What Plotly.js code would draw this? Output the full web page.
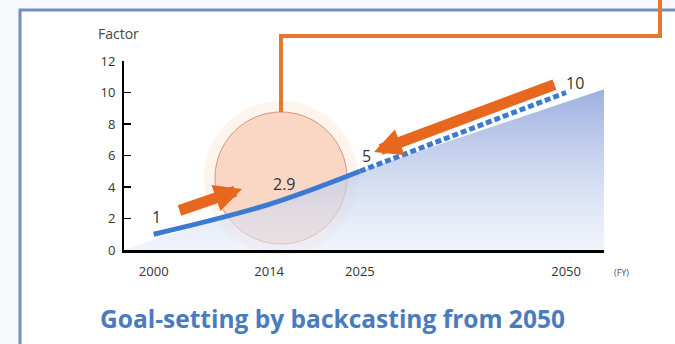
<!DOCTYPE html>
<html><head><meta charset="utf-8">
<script src="https://cdn.plot.ly/plotly-3.0.1.min.js"></script>
<style>html,body{margin:0;padding:0;background:#f6f8fb}#chart{width:675px;height:344px}</style>
</head><body><div id="chart"></div>
<script>
// ---- data ----
const years = [2000, 2014, 2025, 2050];
const factor = [1, 2.9, 5, 10];
const valueLabels = ['1', '2.9', '5', '10'];
const xTickVals = [2000, 2014, 2025, 2050];
const xTickText = ['2000', '2014', '2025', '2050'];
const yTickVals = [0, 2, 4, 6, 8, 10, 12];
const areaX = [1996.4, 2054.6];
const areaY = [0, 10.2];
const yLabel = 'Factor';
const unitLabel = '(FY)';
const chartTitle = 'Goal-setting by backcasting from 2050';

// ---- layout helpers (pixel -> paper) ----
const L = 124, R = 604, T = 61, B = 250, W = 675, H = 344;
const px = p => (p - L) / (R - L);
const py = p => (B - p) / (B - T);

const FONT = 'Open Sans, Noto Sans, sans-serif';
const ORANGE = '#e8671f';
const BLUE = '#3b7ad0';

const traces = [
  {
    x: areaX, y: areaY, mode: 'lines', line: {width: 0}, fill: 'tozeroy',
    fillgradient: {type: 'vertical', colorscale: [[0, 'rgba(228,234,248,0.55)'], [1, 'rgba(152,172,222,0.95)']]},
    hoverinfo: 'skip', showlegend: false
  },
  {
    x: years.slice(0, 3), y: factor.slice(0, 3), mode: 'lines',
    line: {color: BLUE, width: 5, shape: 'spline'}, showlegend: false
  },
  {
    x: years.slice(2), y: factor.slice(2), mode: 'lines',
    line: {color: BLUE, width: 5, dash: '6px,3px'}, showlegend: false
  }
];

const labelShift = [[3, 17], [15, 20], [7, 15], [9, 10]];
const annotations = years.map((yr, i) => ({
  x: yr, y: factor[i], xref: 'x', yref: 'y', text: valueLabels[i], showarrow: false,
  xanchor: 'center', yanchor: 'middle',
  xshift: labelShift[i][0], yshift: labelShift[i][1],
  font: {family: FONT, size: 16, color: '#333'}
}));

annotations.push(
  {x: px(118), y: py(33), xref: 'paper', yref: 'paper', text: yLabel, showarrow: false,
   xanchor: 'center', yanchor: 'middle', font: {family: FONT, size: 14, color: '#444'}},
  {x: px(621), y: py(272), xref: 'paper', yref: 'paper', text: unitLabel, showarrow: false,
   xanchor: 'center', yanchor: 'middle', font: {family: FONT, size: 9, color: '#555'}},
  {x: px(332), y: py(318), xref: 'paper', yref: 'paper', text: '<b>' + chartTitle + '</b>', showarrow: false,
   xanchor: 'center', yanchor: 'middle', font: {family: FONT, size: 24.5, color: '#4a7bbd'}},
  {x: px(242), y: py(189), xref: 'paper', yref: 'paper', text: '', showarrow: true,
   ax: -64, ay: 22, arrowhead: 2, arrowsize: 0.5, arrowwidth: 11, arrowcolor: ORANGE},
  {x: px(374), y: py(152), xref: 'paper', yref: 'paper', text: '', showarrow: true,
   ax: 182, ay: -68, arrowhead: 2, arrowsize: 0.5, arrowwidth: 11, arrowcolor: ORANGE}
);

const cx = 281, cy = 178;
const shapes = [
  {type: 'rect', xref: 'paper', yref: 'paper', x0: px(20), x1: px(720), y0: py(10), y1: py(380),
   line: {color: '#7190be', width: 3}, fillcolor: '#ffffff', layer: 'below'},
  {type: 'circle', xref: 'paper', yref: 'paper', x0: px(cx - 77), x1: px(cx + 77), y0: py(cy + 77), y1: py(cy - 77),
   line: {width: 0}, fillcolor: 'rgba(250,220,200,0.3)', layer: 'below'},
  {type: 'circle', xref: 'paper', yref: 'paper', x0: px(cx - 66), x1: px(cx + 66), y0: py(cy + 66), y1: py(cy - 66),
   line: {color: '#d8957a', width: 1}, fillcolor: 'rgba(246,192,162,0.55)', layer: 'below'},
  {type: 'path', xref: 'paper', yref: 'paper',
   path: `M${px(cx)},${py(112)} L${px(cx)},${py(36)} L${px(660)},${py(36)} L${px(660)},${py(-5)}`,
   line: {color: '#e8772e', width: 4}, layer: 'above'}
];

const layout = {
  width: W, height: H,
  margin: {l: L, r: W - R, t: T, b: H - B, pad: 0},
  paper_bgcolor: '#f6f8fb', plot_bgcolor: 'rgba(0,0,0,0)',
  font: {family: FONT, color: '#333'},
  showlegend: false,
  xaxis: {range: [areaX[0], areaX[1]], tickvals: xTickVals, ticktext: xTickText, showgrid: false, zeroline: false,
          showline: true, linecolor: '#000', linewidth: 3, ticks: '', tickfont: {size: 13, color: '#333'},
          ticklabelstandoff: 7, fixedrange: true},
  yaxis: {range: [0, 12], tickvals: yTickVals, showgrid: false, zeroline: false, showline: true, linecolor: '#000',
          linewidth: 2, ticks: 'inside', ticklen: 7, tickwidth: 1.5, tickcolor: '#000',
          tickfont: {size: 13, color: '#333'}, ticklabelstandoff: 4, fixedrange: true},
  annotations: annotations,
  shapes: shapes
};

Plotly.newPlot('chart', traces, layout, {displayModeBar: false, staticPlot: true});
</script></body></html>
